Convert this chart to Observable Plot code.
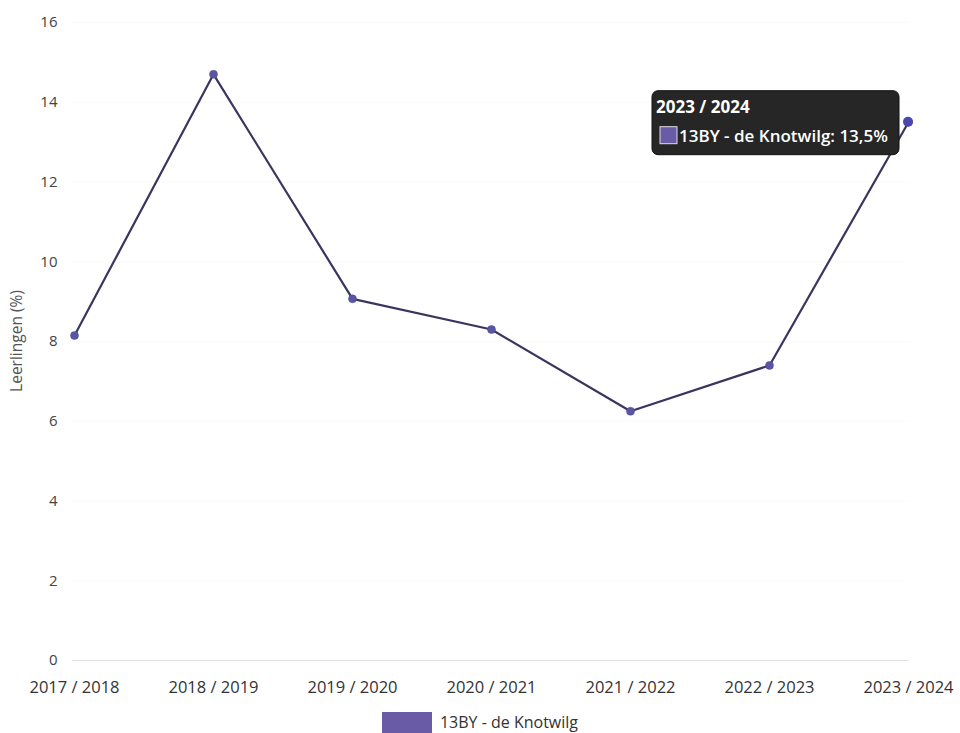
<!DOCTYPE html>
<html>
<head>
<meta charset="utf-8">
<script src="https://cdn.jsdelivr.net/npm/d3@7"></script>
<script src="https://cdn.jsdelivr.net/npm/@observablehq/plot@0.6"></script>
<style>
  body { margin: 0; background: #fff; font-family: "Open Sans", Lato, sans-serif; }
  #wrap { position: relative; width: 960px; }
  #legend { display: flex; justify-content: center; align-items: center; gap: 8px; height: 24px; margin-top: 10px; font-size: 16px; color: #333; width: 960px; }
  #legend .sw { width: 50px; height: 21px; background: #6a5ba6; }
</style>
</head>
<body>
<div id="wrap"></div>
<div id="legend"><span class="sw"></span><span id="legtext"></span></div>
<script>
const seriesName = "13BY - de Knotwilg";
const years = ["2017 / 2018", "2018 / 2019", "2019 / 2020", "2020 / 2021", "2021 / 2022", "2022 / 2023", "2023 / 2024"];
const values = [8.15, 14.7, 9.07, 8.3, 6.25, 7.4, 13.5];
const yTicks = [0, 2, 4, 6, 8, 10, 12, 14, 16];
const yLabel = "Leerlingen (%)";
const tipIndex = 6;

const data = years.map((y, i) => ({year: y, value: values[i]}));

const plot = Plot.plot({
  width: 960,
  height: 700,
  marginTop: 22,
  marginBottom: 40,
  marginLeft: 72,
  marginRight: 51,
  style: {fontFamily: '"Open Sans", Lato, sans-serif', fontSize: "13px", color: "#333", background: "#fff"},
  x: {type: "point", domain: years, padding: 0, label: null, tickSize: 0, tickPadding: 21},
  y: {domain: [0, 16], ticks: yTicks, label: null, tickSize: 0, tickPadding: 15, grid: false},
  marks: [
    Plot.gridY(yTicks.filter(d => d > 0), {stroke: "#000", strokeOpacity: 0.02}),
    Plot.ruleY([0], {stroke: "#e2e2e2", strokeWidth: 1}),
    Plot.line(data, {x: "year", y: "value", stroke: "#3a355f", strokeWidth: 2.2}),
    Plot.dot(data, {x: "year", y: "value", r: 4, fill: "#5a56a6", stroke: "#4a4690", strokeWidth: 0.5})
  ]
});

const wrap = document.getElementById("wrap");
wrap.appendChild(plot);
document.getElementById("legtext").textContent = seriesName;

const svg = d3.select(plot.tagName.toLowerCase() === "svg" ? plot : plot.querySelector("svg"));
svg.selectAll("g[aria-label='x-axis tick label'] text, g[aria-label='x-axis'] text").style("font-size", "16.5px").style("fill", "#333");
svg.selectAll("g[aria-label='y-axis tick label'] text, g[aria-label='y-axis'] text").style("font-size", "15px").style("fill", "#444");

const xs = plot.scale("x");
const ys = plot.scale("y");
const yMid = (ys.apply(0) + ys.apply(16)) / 2;
svg.append("text")
  .attr("transform", `translate(22,${yMid}) rotate(-90)`)
  .attr("text-anchor", "middle")
  .style("font-size", "15.5px").style("fill", "#555")
  .text(yLabel);

// tooltip at last point
const px = xs.apply(years[tipIndex]);
const py = ys.apply(values[tipIndex]);
const g = svg.append("g").attr("transform", `translate(${px - 256},${py - 31})`).attr("text-anchor", "start");
g.append("rect").attr("width", 247).attr("height", 64).attr("rx", 6).attr("fill", "#262626").attr("stroke", "#111");
g.append("text").attr("x", 4).attr("y", 22).attr("fill", "#fff").style("font-weight", "bold").style("font-size", "17px").text(years[tipIndex]);
g.append("rect").attr("x", 8).attr("y", 36).attr("width", 17).attr("height", 17).attr("fill", "#6a5ba6").attr("stroke", "#ddd").attr("stroke-width", 1);
g.append("text").attr("x", 27).attr("y", 51).attr("fill", "#fff").style("font-weight", "600").style("font-size", "17px")
  .text(`${seriesName}: ${String(values[tipIndex]).replace(".", ",")}%`);
// redraw last dot on top
svg.append("circle").attr("cx", px).attr("cy", py).attr("r", 5).attr("fill", "#4a47b0");
</script>
</body>
</html>
